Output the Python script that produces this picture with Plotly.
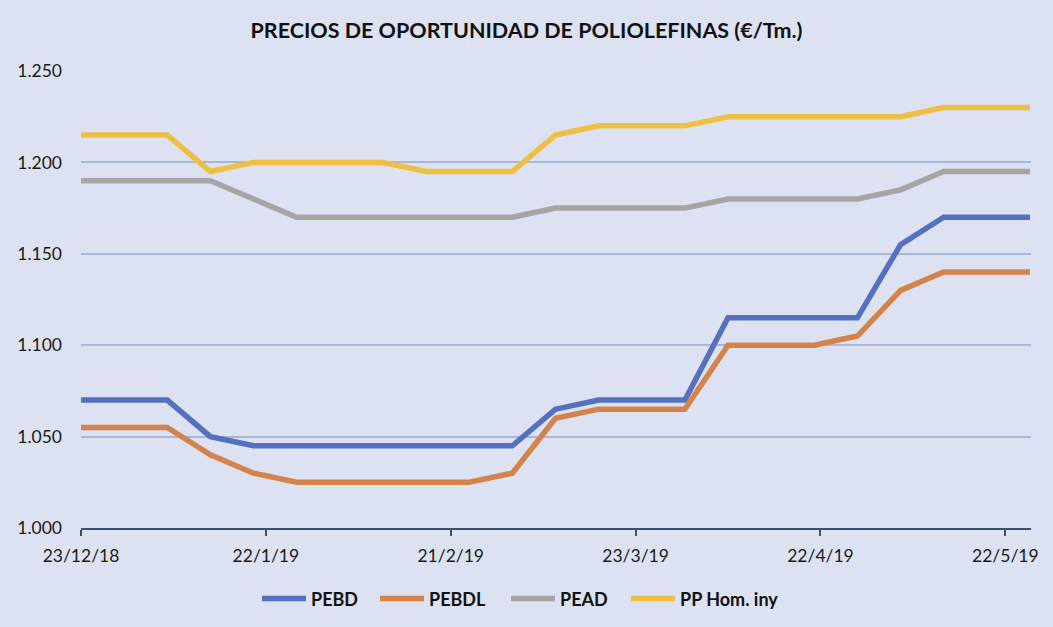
import plotly.graph_objects as go

# ── Datos (€/Tm., semanal) ────────────────────────────────────────────────────
FECHAS = ["2018-12-23", "2018-12-30", "2019-01-06", "2019-01-13", "2019-01-20",
          "2019-01-27", "2019-02-03", "2019-02-10", "2019-02-17", "2019-02-24",
          "2019-03-03", "2019-03-10", "2019-03-17", "2019-03-24", "2019-03-31",
          "2019-04-07", "2019-04-14", "2019-04-21", "2019-04-28", "2019-05-05",
          "2019-05-12", "2019-05-19", "2019-05-26"]

PEBD  = [1070, 1070, 1070, 1050, 1045, 1045, 1045, 1045, 1045, 1045, 1045, 1065,
         1070, 1070, 1070, 1115, 1115, 1115, 1115, 1155, 1170, 1170, 1170]
PEBDL = [1055, 1055, 1055, 1040, 1030, 1025, 1025, 1025, 1025, 1025, 1030, 1060,
         1065, 1065, 1065, 1100, 1100, 1100, 1105, 1130, 1140, 1140, 1140]
PEAD  = [1190, 1190, 1190, 1190, 1180, 1170, 1170, 1170, 1170, 1170, 1170, 1175,
         1175, 1175, 1175, 1180, 1180, 1180, 1180, 1185, 1195, 1195, 1195]
PP    = [1215, 1215, 1215, 1195, 1200, 1200, 1200, 1200, 1195, 1195, 1195, 1215,
         1220, 1220, 1220, 1225, 1225, 1225, 1225, 1225, 1230, 1230, 1230]

TICK_FECHAS = ["2018-12-23", "2019-01-22", "2019-02-21", "2019-03-23", "2019-04-22", "2019-05-22"]
TICK_TEXTO  = ["23/12/18", "22/1/19", "21/2/19", "23/3/19", "22/4/19", "22/5/19"]

SERIES = [("PEBD", PEBD, "#5470BE"), ("PEBDL", PEBDL, "#D4834A"),
          ("PEAD", PEAD, "#A5A5A5"), ("PP Hom. iny", PP, "#EDC044")]

FONT = "Lato, 'Open Sans', sans-serif"
BG = "#DCE2F2"
W, H = 1053, 627

# una leyenda por serie, para fijar la posición de cada entrada
LEYENDA_X = [257, 375, 506, 626]
LEYENDAS = ["legend", "legend2", "legend3", "legend4"]

fig = go.Figure()
for (nombre, valores, color), ley in zip(SERIES, LEYENDAS):
    fig.add_trace(go.Scatter(x=FECHAS, y=valores, mode="lines", name=nombre,
                             line=dict(color=color, width=5.5), legend=ley,
                             showlegend=True))

fig.update_layout(
    width=W, height=H, showlegend=True,
    margin=dict(l=81, r=22, t=71, b=99),
    paper_bgcolor=BG, plot_bgcolor=BG,
    separators=",.",
    font=dict(family=FONT, size=17.5, color="#1a1a1a"),
    title=dict(text="<b>PRECIOS DE OPORTUNIDAD DE POLIOLEFINAS (€/Tm.)</b>",
               x=0.5, xanchor="center", y=0.952, yanchor="middle",
               font=dict(family=FONT, size=21.5, color="#111111")),
    xaxis=dict(type="date", range=["2018-12-23", "2019-05-26 04:00"],
               tickvals=TICK_FECHAS, ticktext=TICK_TEXTO,
               showgrid=False, zeroline=False,
               showline=True, linecolor="#3E4E70", linewidth=2,
               ticks="outside", ticklen=6, tickwidth=2, tickcolor="#3E4E70",
               ticklabelstandoff=5),
    yaxis=dict(range=[1000, 1250], dtick=50, tickformat=",d",
               showgrid=True, gridcolor="#A9B6DC", gridwidth=2,
               zeroline=False, showline=False, ticks="",
               ticklabelstandoff=18),
)

for ley, px in zip(LEYENDAS, LEYENDA_X):
    fig.update_layout({ley: dict(
        orientation="h", xref="container", x=px / W, xanchor="left",
        yref="container", y=0.045, yanchor="middle",
        font=dict(family=FONT, size=18, weight="bold", color="#111111"),
        bgcolor="rgba(0,0,0,0)", itemwidth=44)})

# sin margen del body para que la figura quede en (0, 0)
fig.write_html("out.html", config={"displayModeBar": False},
               post_script="document.body.style.margin='0';document.body.style.padding='0';")
